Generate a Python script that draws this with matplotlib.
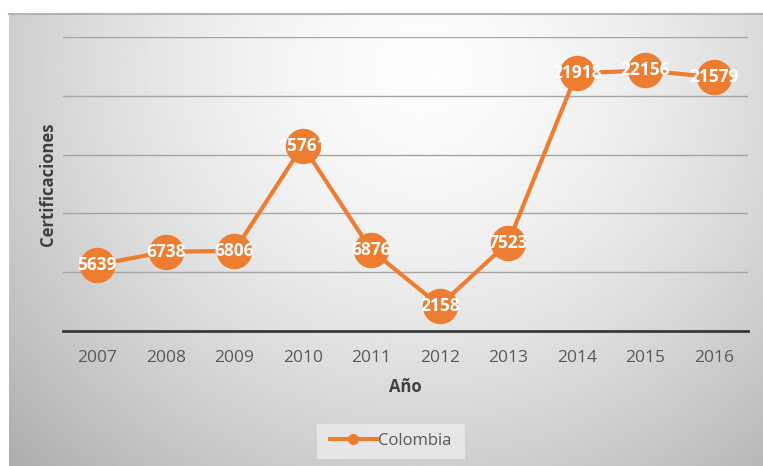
import matplotlib.pyplot as plt
import numpy as np
from matplotlib.lines import Line2D
from matplotlib.patches import Rectangle

# data
years = ['2007', '2008', '2009', '2010', '2011', '2012', '2013', '2014', '2015', '2016']
certificaciones = [5639, 6738, 6806, 15761, 6876, 2158, 7523, 21918, 22156, 21579]
yticks = [0, 5000, 10000, 15000, 20000, 25000]

orange = '#ED7D31'
plt.rcParams['font.family'] = ['Open Sans', 'DejaVu Sans']

W, H = 763, 466
fig = plt.figure(figsize=(W / 100, H / 100), dpi=100)
fig.patch.set_facecolor('white')

## gray gradient background of the chart area
bg = fig.add_axes([9 / W, 0, (W - 9) / W, (H - 14) / H], zorder=-2)
gy, gx = np.mgrid[0:1:300j, 0:1:500j]
d = np.sqrt(((gx - 0.55) / 0.62) ** 2 + ((gy - 0.12) / 1.0) ** 2)
shade = 0.99 - 0.22 * np.clip(d, 0, 1.3) ** 1.6
bg.imshow(shade, cmap='gray', vmin=0, vmax=1, aspect='auto', extent=[0, 1, 1, 0],
          interpolation='bilinear')
bg.set_axis_off()
fig.add_artist(Line2D([9 / W, 1], [1 - 14 / H, 1 - 14 / H], transform=fig.transFigure,
                      color='#b4b4b4', lw=1.5))

## main axes
ax = fig.add_axes([63 / W, 135 / H, 685 / W, 294 / H])
ax.patch.set_alpha(0)
x = np.arange(len(years))
ax.plot(x, certificaciones, color=orange, lw=3, marker='o', markersize=24.5,
        markeredgecolor=orange, zorder=3, clip_on=False)
for xi, v in zip(x, certificaciones):
    ax.text(xi, v, str(v), ha='center', va='center', color='white', fontsize=12.5,
            fontweight='bold', zorder=4)

ax.set_xlim(-0.5, len(years) - 0.5)
ax.set_ylim(0, 25000)
ax.set_yticks(yticks)
ax.set_yticklabels([])
ax.set_xticks(x)
ax.set_xticklabels(years, fontsize=12.5, color='#595959')
ax.tick_params(length=0, pad=14)
ax.grid(axis='y', color='#a5a5a5', lw=1)
ax.set_axisbelow(True)
for s in ['top', 'right', 'left']:
    ax.spines[s].set_visible(False)
ax.spines['bottom'].set_color('#3a3a3a')
ax.spines['bottom'].set_linewidth(2)

ax.set_xlabel('Año', fontsize=12, fontweight='bold', color='#404040', labelpad=8)
ax.set_ylabel('Certificaciones', fontsize=12, fontweight='bold', color='#404040')
ax.yaxis.label.set_va('center')
ax.yaxis.set_label_coords(-0.022, 0.5)

## legend
fig.add_artist(Rectangle((317 / W, 1 - 459 / H), 148 / W, 35 / H, transform=fig.transFigure,
                         facecolor='#ececec', edgecolor='none', alpha=0.8, zorder=1))
handle = Line2D([], [], color=orange, lw=3, marker='o', markersize=7)
leg = fig.legend([handle], ['Colombia'], loc='center', bbox_to_anchor=(391 / W, 1 - 441 / H),
                 frameon=False, fontsize=12, handlelength=2.8, handletextpad=0.1)
for t in leg.get_texts():
    t.set_color('#595959')

fig.savefig('out.png', dpi=100)
